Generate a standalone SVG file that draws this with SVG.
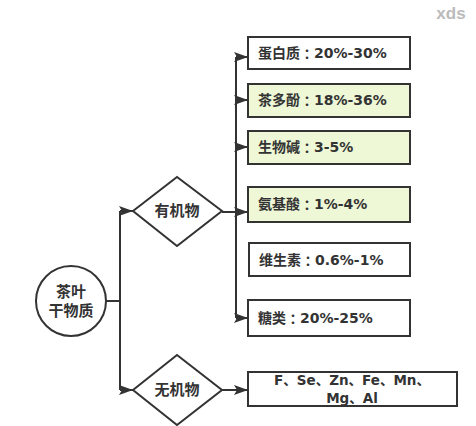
<svg xmlns="http://www.w3.org/2000/svg" width="476" height="426" viewBox="0 0 476 426">
<style>
.box{fill:#fff;stroke:#333;stroke-width:2}
.g{fill:#eef7d6}
.ln{fill:none;stroke:#333;stroke-width:2}
.t{font-family:"DejaVu Sans","Noto Sans CJK SC",sans-serif;font-size:14px;font-weight:bold;fill:#333;dominant-baseline:central}
.k{font-family:"Noto Sans CJK TC",sans-serif}
.c{text-anchor:middle}
</style>
<defs>
<marker id="ar" viewBox="0 0 14 10" refX="14" refY="5" markerWidth="14" markerHeight="10" markerUnits="userSpaceOnUse" orient="auto">
<path d="M0,0 L14,5 L0,10 L3,5 Z" fill="#333"/>
</marker>
</defs>
<rect width="476" height="426" fill="#fff"/>
<text x="451" y="13" class="t c" style="fill:#bbb;font-size:17px;font-family:'Liberation Sans',sans-serif">xds</text>
<g id="connectors">
<path class="ln" d="M106,301 H120"/>
<path class="ln" d="M120,211 V390"/>
<path class="ln" d="M120,211 H133" marker-end="url(#ar)"/>
<path class="ln" d="M120,390 H133" marker-end="url(#ar)"/>
<path class="ln" d="M222,212 H248" marker-end="url(#ar)"/>
<path class="ln" d="M236,57 V318"/>
<path class="ln" d="M236,57 H248" marker-end="url(#ar)"/>
<path class="ln" d="M236,100 H248" marker-end="url(#ar)"/>
<path class="ln" d="M236,147 H248" marker-end="url(#ar)"/>
<path class="ln" d="M236,318 H248" marker-end="url(#ar)"/>
<path class="ln" d="M222,390 H248" marker-end="url(#ar)"/>
</g>
<g id="root">
<circle class="box" cx="71" cy="301" r="35"/>
<text class="t c" x="71" y="292" style="font-size:15px">茶叶</text>
<text class="t c" x="71" y="311" style="font-size:15px">干物质</text>
</g>
<g id="organic">
<path class="box" d="M133,211 L177,177 L222,211 L177,246 Z"/>
<text class="t c" x="177" y="211" style="font-size:15px">有机物</text>
</g>
<g id="inorganic">
<path class="box" d="M133,390 L177,355 L222,390 L177,425 Z"/>
<text class="t c" x="177" y="390" style="font-size:15px">无机物</text>
</g>
<g id="protein">
<rect class="box" x="248" y="37" width="162" height="32"/>
<text class="t" x="258" y="53">蛋白质<tspan class="k">：</tspan>20%-30%</text>
</g>
<g id="polyphenol">
<rect class="box g" x="248" y="84" width="162" height="33"/>
<text class="t" x="258" y="100">茶多酚<tspan class="k">：</tspan>18%-36%</text>
</g>
<g id="alkaloid">
<rect class="box g" x="248" y="131" width="162" height="33"/>
<text class="t" x="258" y="147">生物碱<tspan class="k">：</tspan>3-5%</text>
</g>
<g id="aminoacid">
<rect class="box g" x="248" y="187" width="162" height="35"/>
<text class="t" x="258" y="204">氨基酸<tspan class="k">：</tspan>1%-4%</text>
</g>
<g id="vitamin">
<rect class="box" x="249" y="243" width="161" height="33"/>
<text class="t" x="259" y="260">维生素<tspan class="k">：</tspan>0.6%-1%</text>
</g>
<g id="sugar">
<rect class="box" x="248" y="300" width="162" height="36"/>
<text class="t" x="258" y="318">糖类<tspan class="k">：</tspan>20%-25%</text>
</g>
<g id="minerals">
<rect class="box" x="248" y="372" width="209" height="34"/>
<text class="t c" x="352" y="380" style="font-size:13.5px">F、Se、Zn、Fe、Mn、</text>
<text class="t c" x="352" y="398" style="font-size:13.5px">Mg、Al</text>
</g>
</svg>
